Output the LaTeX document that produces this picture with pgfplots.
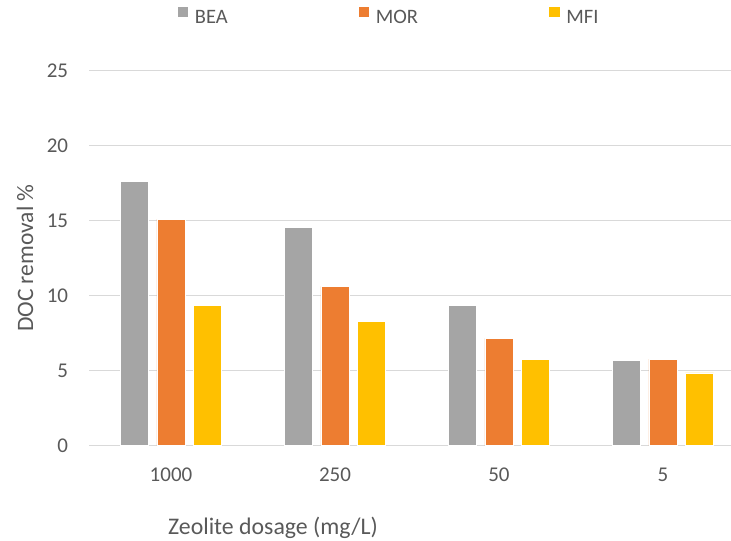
\documentclass[border=0pt]{standalone}
\usepackage{pgfplots}
\pgfplotsset{compat=1.18}
\usepackage{fontspec}
\setmainfont{Carlito}
\definecolor{beagray}{HTML}{A5A5A5}
\definecolor{mororange}{HTML}{ED7D31}
\definecolor{mfiyellow}{HTML}{FFC000}
\definecolor{txtgray}{HTML}{595959}
\definecolor{gridgray}{HTML}{D9D9D9}
\begin{document}
\begin{tikzpicture}
\path[use as bounding box] (0bp,0bp) rectangle (731bp,-541bp);
\begin{axis}[
 at={(89bp,-445.7bp)}, anchor=south west,
 scale only axis, width=642bp, height=375bp,
 ybar=8.2bp, bar width=28.3bp,
 xmin=-0.5, xmax=3.415, ymin=0, ymax=25,
 xtick={0,1,2,3}, xticklabels={1000,250,50,5},
 ytick={0,5,...,25},
 ymajorgrids, grid style={gridgray, line width=1bp},
 major tick length=0pt,
 axis line style={draw=none},
 /pgf/number format/assume math mode=true,
 tick label style={font=\fontsize{21bp}{25bp}\selectfont, text=txtgray, inner sep=0pt},
 xticklabel style={anchor=base, yshift=-35.3bp},
 yticklabel style={anchor=east, xshift=-20.7bp},
 xlabel={Zeolite dosage (mg/L)},
 ylabel={DOC removal \%},
 xlabel style={at={(axis description cs:0.2866,-0.238)}, anchor=base, font=\fontsize{23.8bp}{28bp}\selectfont, text=txtgray, inner sep=0pt},
 ylabel style={at={(axis description cs:-0.0997,0.5)}, anchor=center, font=\fontsize{23.5bp}{28bp}\selectfont, text=txtgray, inner sep=0pt},
 legend columns=3,
 legend cell align=left,
 legend style={at={(axis description cs:0.1366,1.1219)}, anchor=south west, draw=none, fill=none, inner sep=0pt, outer sep=0pt, column sep=6bp, font=\fontsize{20.5bp}{24bp}\selectfont, text=txtgray, nodes={inner sep=0pt}, /tikz/every even column/.append style={column sep=130bp}},
]
\addplot[fill=beagray, draw=white, line width=0.5bp, legend image code/.code={\fill[fill=beagray] (0bp,0bp) rectangle (11.7bp,11.7bp);}] coordinates {(0,17.63) (1,14.58) (2,9.38) (3,5.69)};
\addplot[fill=mororange, draw=white, line width=0.5bp, legend image code/.code={\fill[fill=mororange] (0bp,0bp) rectangle (11.7bp,11.7bp);}] coordinates {(0,15.11) (1,10.62) (2,7.16) (3,5.78)};
\addplot[fill=mfiyellow, draw=white, line width=0.5bp, legend image code/.code={\fill[fill=mfiyellow] (0bp,0bp) rectangle (11.7bp,11.7bp);}] coordinates {(0,9.36) (1,8.29) (2,5.78) (3,4.85)};
\legend{BEA,MOR,MFI}
\end{axis}
\end{tikzpicture}
\end{document}
